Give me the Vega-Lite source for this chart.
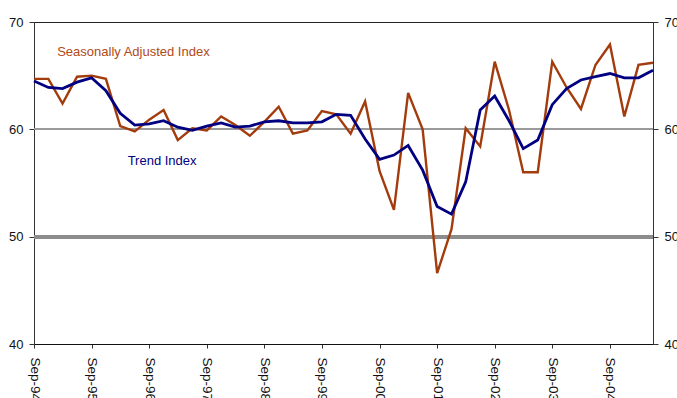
{
  "$schema": "https://vega.github.io/schema/vega-lite/v6.json",
  "width": 619,
  "height": 322,
  "autosize": {"type": "none"},
  "padding": {"left": 34, "top": 22, "right": 24, "bottom": 54},
  "config": {
    "font": "Liberation Sans",
    "view": {"stroke": "#222222", "strokeWidth": 1},
    "axis": {
      "labelFont": "Liberation Sans",
      "labelFontSize": 13,
      "labelColor": "#111111",
      "tickColor": "#333333",
      "domainColor": "#333333",
      "grid": false,
      "title": null
    }
  },
  "data": {
    "values": [
      {"date": "1994-09-01", "sa": 64.7, "trend": 64.5},
      {"date": "1994-12-01", "sa": 64.7, "trend": 63.9},
      {"date": "1995-03-01", "sa": 62.4, "trend": 63.8},
      {"date": "1995-06-01", "sa": 64.9, "trend": 64.4},
      {"date": "1995-09-01", "sa": 65.0, "trend": 64.8},
      {"date": "1995-12-01", "sa": 64.7, "trend": 63.6},
      {"date": "1996-03-01", "sa": 60.3, "trend": 61.5},
      {"date": "1996-06-01", "sa": 59.8, "trend": 60.4},
      {"date": "1996-09-01", "sa": 60.9, "trend": 60.5},
      {"date": "1996-12-01", "sa": 61.8, "trend": 60.8},
      {"date": "1997-03-01", "sa": 59.0, "trend": 60.2},
      {"date": "1997-06-01", "sa": 60.1, "trend": 59.9},
      {"date": "1997-09-01", "sa": 59.9, "trend": 60.3},
      {"date": "1997-12-01", "sa": 61.2, "trend": 60.6},
      {"date": "1998-03-01", "sa": 60.4, "trend": 60.2},
      {"date": "1998-06-01", "sa": 59.4, "trend": 60.3},
      {"date": "1998-09-01", "sa": 60.7, "trend": 60.7},
      {"date": "1998-12-01", "sa": 62.1, "trend": 60.8},
      {"date": "1999-03-01", "sa": 59.6, "trend": 60.6},
      {"date": "1999-06-01", "sa": 59.9, "trend": 60.6},
      {"date": "1999-09-01", "sa": 61.7, "trend": 60.7},
      {"date": "1999-12-01", "sa": 61.4, "trend": 61.4},
      {"date": "2000-03-01", "sa": 59.6, "trend": 61.3},
      {"date": "2000-06-01", "sa": 62.6, "trend": 59.1},
      {"date": "2000-09-01", "sa": 56.1, "trend": 57.2},
      {"date": "2000-12-01", "sa": 52.5, "trend": 57.6},
      {"date": "2001-03-01", "sa": 63.4, "trend": 58.5},
      {"date": "2001-06-01", "sa": 60.0, "trend": 56.2},
      {"date": "2001-09-01", "sa": 46.6, "trend": 52.8},
      {"date": "2001-12-01", "sa": 50.7, "trend": 52.1},
      {"date": "2002-03-01", "sa": 60.1, "trend": 55.1},
      {"date": "2002-06-01", "sa": 58.4, "trend": 61.8},
      {"date": "2002-09-01", "sa": 66.3, "trend": 63.1},
      {"date": "2002-12-01", "sa": 61.8, "trend": 60.8},
      {"date": "2003-03-01", "sa": 56.0, "trend": 58.2},
      {"date": "2003-06-01", "sa": 56.0, "trend": 59.0},
      {"date": "2003-09-01", "sa": 66.3, "trend": 62.3},
      {"date": "2003-12-01", "sa": 63.9, "trend": 63.8},
      {"date": "2004-03-01", "sa": 61.9, "trend": 64.6},
      {"date": "2004-06-01", "sa": 66.0, "trend": 64.9},
      {"date": "2004-09-01", "sa": 67.9, "trend": 65.2},
      {"date": "2004-12-01", "sa": 61.2, "trend": 64.8},
      {"date": "2005-03-01", "sa": 66.0, "trend": 64.8},
      {"date": "2005-06-01", "sa": 66.2, "trend": 65.5}
    ]
  },
  "layer": [
    {
      "mark": {"type": "rule", "color": "#9a9a9a", "strokeWidth": 1},
      "encoding": {
        "y": {"datum": 60, "type": "quantitative", "scale": {"domain": [40, 70], "nice": false, "zero": false}, "axis": null}
      }
    },
    {
      "mark": {"type": "rule", "color": "#8c8c8c", "strokeWidth": 3},
      "encoding": {
        "y": {"datum": 50, "type": "quantitative", "scale": {"domain": [40, 70], "nice": false, "zero": false}, "axis": null}
      }
    },
    {
      "mark": {"type": "line", "color": "#A33C0C", "strokeWidth": 2.4, "strokeJoin": "miter"},
      "encoding": {
        "x": {
          "field": "date",
          "type": "temporal",
          "scale": {"type": "utc", "nice": false, "padding": 0},
          "axis": {
            "values": [
              {"year": 1994, "month": 9, "date": 1, "utc": true},
              {"year": 1995, "month": 9, "date": 1, "utc": true},
              {"year": 1996, "month": 9, "date": 1, "utc": true},
              {"year": 1997, "month": 9, "date": 1, "utc": true},
              {"year": 1998, "month": 9, "date": 1, "utc": true},
              {"year": 1999, "month": 9, "date": 1, "utc": true},
              {"year": 2000, "month": 9, "date": 1, "utc": true},
              {"year": 2001, "month": 9, "date": 1, "utc": true},
              {"year": 2002, "month": 9, "date": 1, "utc": true},
              {"year": 2003, "month": 9, "date": 1, "utc": true},
              {"year": 2004, "month": 9, "date": 1, "utc": true}
            ],
            "labelExpr": "utcFormat(datum.value, '%b-%y')",
            "labelAngle": 90,
            "labelAlign": "left",
            "labelBaseline": "middle",
            "labelPadding": 9,
            "labelFontSize": 13.5,
            "tickSize": 4,
            "domainColor": "#111111",
            "labelFlush": false,
            "labelOverlap": false
          }
        },
        "y": {
          "field": "sa",
          "type": "quantitative",
          "scale": {"domain": [40, 70], "nice": false, "zero": false},
          "axis": {"orient": "left", "values": [40, 50, 60, 70], "tickSize": 5, "labelPadding": 6}
        }
      }
    },
    {
      "mark": {"type": "line", "color": "#000080", "strokeWidth": 2.8, "strokeJoin": "miter"},
      "encoding": {
        "x": {"field": "date", "type": "temporal", "scale": {"type": "utc", "nice": false, "padding": 0}},
        "y": {
          "field": "trend",
          "type": "quantitative",
          "scale": {"domain": [40, 70], "nice": false, "zero": false},
          "axis": {"orient": "right", "values": [40, 50, 60, 70], "tickSize": 5, "labelPadding": 6}
        }
      }
    },
    {
      "data": {"values": [{"label": "Seasonally Adjusted Index"}]},
      "mark": {"type": "text", "color": "#B04A1A", "fontSize": 13, "align": "left", "baseline": "alphabetic", "font": "Liberation Sans"},
      "encoding": {
        "text": {"field": "label"},
        "x": {"datum": {"year": 1995, "month": 1, "date": 26, "utc": true}, "type": "temporal"},
        "y": {"datum": 66.8, "type": "quantitative", "scale": {"domain": [40, 70], "nice": false, "zero": false}, "axis": null}
      }
    },
    {
      "data": {"values": [{"label": "Trend Index"}]},
      "mark": {"type": "text", "color": "#000080", "fontSize": 13, "align": "left", "baseline": "alphabetic", "font": "Liberation Sans"},
      "encoding": {
        "text": {"field": "label"},
        "x": {"datum": {"year": 1996, "month": 4, "date": 17, "utc": true}, "type": "temporal"},
        "y": {"datum": 56.64, "type": "quantitative", "scale": {"domain": [40, 70], "nice": false, "zero": false}, "axis": null}
      }
    }
  ],
  "resolve": {"scale": {"y": "independent"}, "axis": {"y": "independent"}}
}
